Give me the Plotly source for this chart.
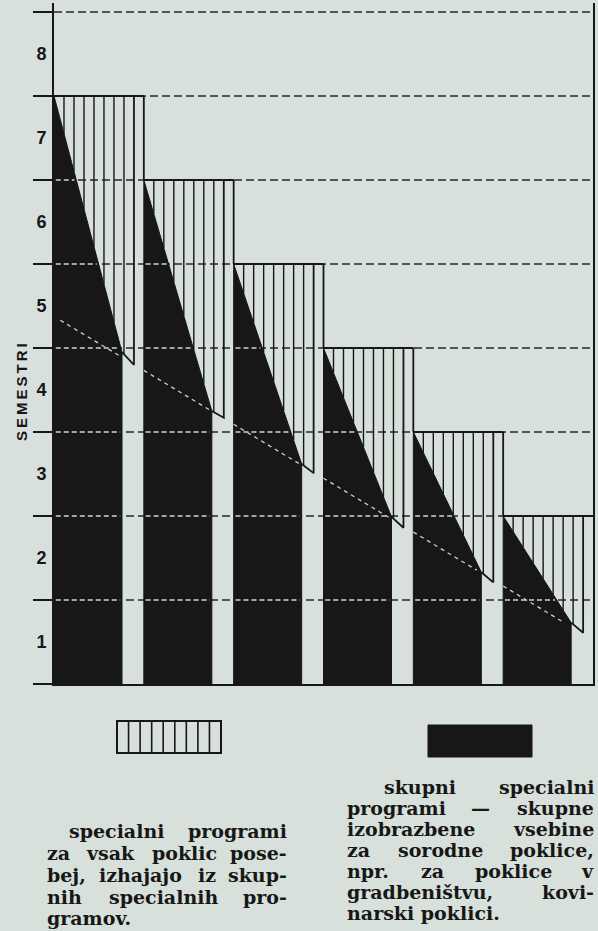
import numpy as np
import plotly.graph_objects as go

# ---------------- data ----------------
semester_labels = ["1", "2", "3", "4", "5", "6", "7", "8"]
group_left = [0, 1, 2, 3, 4, 5]                 # position of each column pair
special_top = [7.0, 6.0, 5.0, 4.0, 3.0, 2.0]    # top of "specialni programi" block
common_end = [3.95, 3.25, 2.62, 1.99, 1.33, 0.73]   # black diagonal value at column right edge
special_tip = [3.80, 3.17, 2.51, 1.86, 1.21, 0.61]  # lowest corner of hatched block
trend_x = [0.07, 5.68]
trend_y = [4.33, 0.73]

axis_title = "SEMESTRI"
legend_left = ["specialni programi", "za vsak poklic pose-", "bej, izhajajo iz skup-",
               "nih specialnih pro-", "gramov."]
legend_right = ["skupni specialni", "programi — skupne", "izobrazbene vsebine",
                "za sorodne poklice,", "npr. za poklice v", "gradbeništvu, kovi-",
                "narski poklici."]

# ---------------- style ----------------
BG = "#d7e0da"
INK = "#171717"
BAR_W = 0.757
WALL = 0.89
N_HATCH = 8
XMAX = 6
YMAX = 681 / 84

W, H = 598, 931
ML, MR, MT, MB = 54, 5, 3, 247
PW, PH = W - ML - MR, H - MT - MB


def px(x):
    return (x - ML) / PW


def py(y):
    return (H - MB - y) / PH


fig = go.Figure()


def add_line(xs, ys, color, width, dash=None):
    fig.add_trace(go.Scatter(x=xs, y=ys, mode="lines", hoverinfo="skip",
                             line=dict(color=color, width=width, dash=dash),
                             connectgaps=False, showlegend=False))


# dashed grid lines (under everything)
gx, gy = [], []
for v in range(1, len(semester_labels) + 1):
    gx += [0, XMAX, None]
    gy += [v, v, None]
add_line(gx, gy, "#262626", 1.5, "8px,4px")

# black columns (skupni specialni programi)
for L, top, d in zip(group_left, special_top, common_end):
    R = L + BAR_W
    fig.add_trace(go.Scatter(x=[L, L, R, R, L], y=[0, top, d, 0, 0], mode="lines",
                             fill="toself", fillcolor=INK, line=dict(color=INK, width=1),
                             hoverinfo="skip", showlegend=False))

# white dashed grid over black
wx, wy = [], []
for L, top, d in zip(group_left, special_top, common_end):
    R = L + BAR_W
    for v in range(1, len(semester_labels) + 1):
        if v >= top:
            continue
        xe = R if v <= d else L + (top - v) / (top - d) * (R - L)
        wx += [L + 0.02, xe - 0.02, None]
        wy += [v, v, None]
add_line(wx, wy, "#cdd5cf", 1.3, "5px,3px")

# white dashed trend line, visible over black only
tx, ty = [], []
slope = (trend_y[1] - trend_y[0]) / (trend_x[1] - trend_x[0])
for L, top, d in zip(group_left, special_top, common_end):
    R = L + BAR_W
    xs = np.linspace(max(L, trend_x[0]), min(R, trend_x[1]) - 0.02, 120)
    yt = trend_y[0] + slope * (xs - trend_x[0])
    bound = top + (d - top) * (xs - L) / (R - L)
    inside = yt < bound - 0.08
    prev = False
    for xv, yv, ok in zip(xs, yt, inside):
        if ok:
            tx.append(float(xv))
            ty.append(float(yv))
        elif prev:
            tx.append(None)
            ty.append(None)
        prev = ok
    tx.append(None)
    ty.append(None)
add_line(tx, ty, "#c9d1cb", 1.3, "4px,4px")

# hatched blocks (specialni programi)
hx, hy = [], []
ox, oy = [], []
for i, (L, top, d, tip) in enumerate(zip(group_left, special_top, common_end, special_tip)):
    R = L + BAR_W
    Wl = L + WALL
    step = WALL / N_HATCH
    for j in range(1, N_HATCH):
        xj = L + j * step
        if xj <= R:
            yb = top + (d - top) * (xj - L) / (R - L)
        else:
            yb = d + (tip - d) * (xj - R) / (Wl - R)
        hx += [xj, xj, None]
        hy += [top, yb, None]
    nxt = group_left[i + 1] if i + 1 < len(group_left) else XMAX
    # top edge, wall, slanted bottom
    ox += [L, nxt, None, Wl, Wl, R, None]
    oy += [top, top, None, top, tip, d, None]
    # step: next column's left edge rises to this top
    if i + 1 < len(group_left):
        ox += [nxt, nxt, None]
        oy += [special_top[i + 1], top, None]
add_line(hx, hy, INK, 1.4)
add_line(ox, oy, INK, 1.8)

# ---------------- annotations ----------------
annotations = []
sep = "\u2009"
annotations.append(dict(text="<b>" + sep.join(axis_title) + "</b>", x=px(21), y=py(392),
                        xref="paper", yref="paper", textangle=-90, showarrow=False,
                        xanchor="center", yanchor="middle",
                        font=dict(family="Liberation Sans", size=15, color=INK)))

CW = {'a': .675, 'b': .716, 'c': .593, 'd': .716, 'e': .678, 'f': .435, 'g': .716,
      'h': .76, 'i': .38, 'j': .37, 'k': .73, 'l': .38, 'm': 1.06, 'n': .76, 'o': .687,
      'p': .716, 'q': .716, 'r': .53, 's': .595, 't': .478, 'u': .76, 'v': .652,
      'w': .924, 'x': .645, 'y': .652, 'z': .582, '-': .338, ',': .38, '.': .38,
      '—': 1.0, 'š': .595}
FS = 19
SERIF = "DejaVu Serif"


def tw(s):
    return sum(CW.get(c, .65) for c in s) * FS * 0.95


def put(text, x, y, anchor):
    annotations.append(dict(text="<b>" + text + "</b>", x=px(x), y=py(y), xref="paper",
                            yref="paper", xanchor=anchor, yanchor="middle", showarrow=False,
                            font=dict(family=SERIF, size=FS, color=INK)))


def block(lines, x0, x1, indent, ys):
    for k, (line, y) in enumerate(zip(lines, ys)):
        left = x0 + (indent if k == 0 else 0)
        words = line.split()
        if k == len(lines) - 1 or len(words) == 1:
            put(line, left, y, "left")
            continue
        widths = [tw(w) for w in words]
        gap = (x1 - left - sum(widths)) / (len(words) - 1)
        x = left
        for n, (w, wd) in enumerate(zip(words, widths)):
            if n == 0:
                put(w, left, y, "left")
            elif n == len(words) - 1:
                put(w, x1, y, "right")
            else:
                put(w, x + wd / 2, y, "center")
            x += wd + gap


block(legend_left, 45, 289, 22, [831, 853, 875, 897, 918])
block(legend_right, 345, 596, 37, [787, 808, 829, 850, 871, 892, 913])

# legend swatches
shapes = [
    dict(type="rect", xref="paper", yref="paper", x0=px(117), x1=px(221), y0=py(753),
         y1=py(721), line=dict(color=INK, width=2), fillcolor="rgba(0,0,0,0)"),
    dict(type="rect", xref="paper", yref="paper", x0=px(428), x1=px(532), y0=py(757),
         y1=py(725), line=dict(color=INK, width=1), fillcolor=INK),
]
for j in range(1, 9):
    xx = 117 + j * (104 / 9)
    shapes.append(dict(type="line", xref="paper", yref="paper", x0=px(xx), x1=px(xx),
                       y0=py(753), y1=py(721), line=dict(color=INK, width=1.6)))

fig.update_layout(
    width=W, height=H, margin=dict(l=ML, r=MR, t=MT, b=MB, pad=0),
    plot_bgcolor=BG, paper_bgcolor=BG, showlegend=False,
    annotations=annotations, shapes=shapes,
    xaxis=dict(range=[0, XMAX], showgrid=False, zeroline=False, showticklabels=False,
               ticks="", showline=True, linecolor=INK, linewidth=2, fixedrange=True),
    yaxis=dict(range=[0, YMAX], showgrid=False, zeroline=False,
               tickvals=[k + 0.5 for k in range(len(semester_labels))],
               ticktext=semester_labels, ticks="", ticklabelstandoff=2,
               tickfont=dict(family="Liberation Sans", size=18, color=INK, weight="bold"),
               showline=True, mirror=True, linecolor=INK, linewidth=2,
               minor=dict(tickvals=list(range(0, len(semester_labels) + 1)), ticks="outside",
                          ticklen=19, tickwidth=2, tickcolor=INK),
               fixedrange=True),
)

fig.write_html(
    "out.html",
    config={"displayModeBar": False},
    post_script="document.body.style.margin='0';document.body.style.background='%s';" % BG,
)
